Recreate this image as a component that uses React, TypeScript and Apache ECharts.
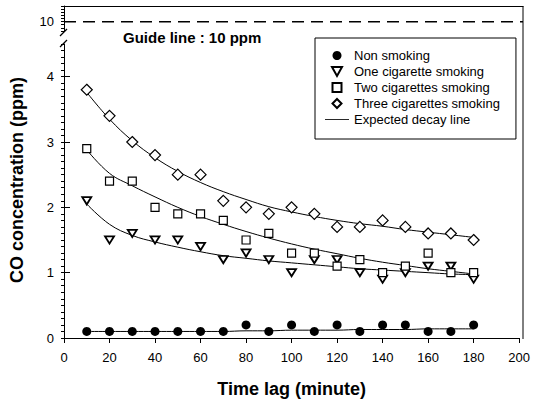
import React, { useEffect, useRef } from 'react';
import * as echarts from 'echarts';

const TIMES = [10, 20, 30, 40, 50, 60, 70, 80, 90, 100, 110, 120, 130, 140, 150, 160, 170, 180];

const NON_SMOKING = [0.1, 0.1, 0.1, 0.1, 0.1, 0.1, 0.1, 0.2, 0.1, 0.2, 0.1, 0.2, 0.1, 0.2, 0.2, 0.1, 0.1, 0.2];
const ONE_CIG = [2.1, 1.5, 1.6, 1.5, 1.5, 1.4, 1.2, 1.3, 1.2, 1.0, 1.2, 1.2, 1.0, 0.9, 1.0, 1.1, 1.1, 0.9];
const TWO_CIG = [2.9, 2.4, 2.4, 2.0, 1.9, 1.9, 1.8, 1.5, 1.6, 1.3, 1.3, 1.1, 1.2, 1.0, 1.1, 1.3, 1.0, 1.0];
const THREE_CIG = [3.8, 3.4, 3.0, 2.8, 2.5, 2.5, 2.1, 2.0, 1.9, 2.0, 1.9, 1.7, 1.7, 1.8, 1.7, 1.6, 1.6, 1.5];

// Expected decay lines
const NON_FIT = [0.1, 0.1, 0.1, 0.1, 0.1, 0.1, 0.1, 0.11, 0.11, 0.12, 0.12, 0.12, 0.13, 0.13, 0.13, 0.14, 0.14, 0.14];
const ONE_FIT = [2.05, 1.74, 1.57, 1.47, 1.39, 1.32, 1.26, 1.22, 1.18, 1.15, 1.12, 1.09, 1.06, 1.04, 1.02, 1.0, 0.98, 0.97];
const TWO_FIT = [2.88, 2.52, 2.33, 2.16, 2.0, 1.86, 1.74, 1.63, 1.53, 1.44, 1.36, 1.29, 1.22, 1.16, 1.11, 1.06, 1.02, 0.98];
const THREE_FIT = [3.76, 3.35, 3.02, 2.76, 2.55, 2.38, 2.24, 2.12, 2.01, 1.93, 1.86, 1.8, 1.75, 1.71, 1.66, 1.62, 1.58, 1.54];

const GUIDE_X = [0, 200];
const GUIDE_LEVEL = 10;

const X_MIN = 0;
const X_MAX = 200;
const X_STEP = 20;
const LOW_TICKS = [0, 1, 2, 3, 4];
const HIGH_TICKS = [10];

const NAMES = [
  'Non smoking',
  'One cigarette smoking',
  'Two cigarettes smoking',
  'Three cigarettes smoking',
  'Expected decay line',
];

const FONT = 'Liberation Sans, Arial, Helvetica, sans-serif';

const SYM_TRI = 'path://M0,0L10,0L5,9Z';
const SYM_RECT = 'path://M0,0L10,0L10,10L0,10Z';
const SYM_DIAMOND = 'path://M5,0L10,5L5,10L0,5Z';
const SYM_LINE = 'path://M0,0L40,0L40,1.4L0,1.4Z';

const pairs = (ys: number[]) => TIMES.map((t, i) => [t, ys[i]]);

export default function App() {
  const ref = useRef<HTMLDivElement>(null);

  useEffect(() => {
    document.body.style.margin = '0';
    const chart = echarts.init(ref.current!, null, { renderer: 'svg' });

    const L = 64;
    const R = 523;
    const W = R - L;
    const UP_TOP = 6;
    const UP_H = 25;
    const LO_TOP = 44;
    const LO_H = 295;

    const fitLine = (ys: number[]) => ({
      name: 'Expected decay line',
      type: 'line',
      xAxisIndex: 1,
      yAxisIndex: 2,
      data: pairs(ys),
      smooth: 0.4,
      symbol: 'none',
      lineStyle: { color: '#000', width: 1 },
      itemStyle: { color: '#000' },
      z: 2,
    });

    const scatter = (name: string, ys: number[], symbol: string, size: number | number[], fill: string, bw: number) => ({
      name,
      type: 'scatter',
      xAxisIndex: 1,
      yAxisIndex: 2,
      data: pairs(ys),
      symbol,
      symbolSize: size,
      symbolKeepAspect: true,
      itemStyle: { color: fill, borderColor: '#000', borderWidth: bw, opacity: 1 },
      z: 5,
    });

    const option: any = {
      animation: false,
      backgroundColor: '#fff',
      textStyle: { fontFamily: FONT, color: '#000' },
      grid: [
        { left: L, width: W, top: UP_TOP, height: UP_H, containLabel: false },
        { left: L, width: W, top: LO_TOP, height: LO_H, containLabel: false },
      ],
      xAxis: [
        {
          gridIndex: 0,
          type: 'value',
          position: 'top',
          min: X_MIN,
          max: X_MAX,
          interval: X_STEP,
          axisLine: { show: true, lineStyle: { color: '#000', width: 1 } },
          axisTick: { show: false },
          axisLabel: { show: false },
          splitLine: { show: false },
        },
        {
          gridIndex: 1,
          type: 'value',
          min: X_MIN,
          max: X_MAX,
          interval: X_STEP,
          axisLine: { show: true, onZero: false, lineStyle: { color: '#000', width: 1 } },
          axisTick: { show: true, inside: false, length: 5, lineStyle: { color: '#000' } },
          axisLabel: { fontSize: 13, color: '#000', margin: 13, fontFamily: FONT },
          splitLine: { show: false },
          name: 'Time lag (minute)',
          nameLocation: 'middle',
          nameGap: 42,
          nameTextStyle: { fontSize: 18, fontWeight: 'bold', color: '#000', fontFamily: FONT },
        },
      ],
      yAxis: [
        {
          gridIndex: 0,
          type: 'value',
          min: 9.7,
          max: 10.5,
          interval: 0.1,
          axisLine: { show: true, onZero: false, lineStyle: { color: '#000', width: 1 } },
          axisTick: { show: true, length: 3, lineStyle: { color: '#000' } },
          axisLabel: {
            customValues: HIGH_TICKS,
            fontSize: 13,
            color: '#000',
            margin: 10,
            fontFamily: FONT,
            formatter: (v: number) => (HIGH_TICKS.some((t) => Math.abs(t - v) < 1e-6) ? String(Math.round(v)) : ''),
          },
          splitLine: { show: false },
        },
        {
          gridIndex: 0,
          type: 'value',
          min: 9.7,
          max: 10.5,
          axisLine: { show: false },
          axisTick: { show: true, length: 6, customValues: HIGH_TICKS, lineStyle: { color: '#000' } },
          axisLabel: { show: false },
          splitLine: { show: false },
        },
        {
          gridIndex: 1,
          type: 'value',
          min: 0,
          max: 4.5,
          interval: 0.1,
          axisLine: { show: true, onZero: false, lineStyle: { color: '#000', width: 1 } },
          axisTick: { show: true, length: 3, lineStyle: { color: '#000' } },
          axisLabel: {
            customValues: LOW_TICKS,
            fontSize: 13,
            color: '#000',
            margin: 10,
            fontFamily: FONT,
            formatter: (v: number) => (LOW_TICKS.some((t) => Math.abs(t - v) < 1e-6) ? String(Math.round(v)) : ''),
          },
          splitLine: { show: false },
        },
        {
          gridIndex: 1,
          type: 'value',
          min: 0,
          max: 4.5,
          axisLine: { show: false },
          axisTick: { show: true, length: 6, customValues: LOW_TICKS, lineStyle: { color: '#000' } },
          axisLabel: { show: false },
          splitLine: { show: false },
        },
      ],
      legend: {
        orient: 'vertical',
        left: 315,
        top: 38,
        padding: [11, 16, 13, 10],
        itemWidth: 24,
        itemHeight: 9,
        itemGap: 3,
        borderColor: '#000',
        borderWidth: 1,
        backgroundColor: '#fff',
        textStyle: { fontSize: 13, color: '#000', fontFamily: FONT },
        data: [
          { name: NAMES[0], icon: 'circle' },
          { name: NAMES[1], icon: SYM_TRI },
          { name: NAMES[2], icon: SYM_RECT },
          { name: NAMES[3], icon: SYM_DIAMOND },
          { name: NAMES[4], icon: SYM_LINE, itemStyle: { color: '#000', borderWidth: 0 } },
        ],
      },
      graphic: [
        {
          type: 'line',
          shape: { x1: R, y1: UP_TOP, x2: R, y2: LO_TOP + LO_H },
          style: { stroke: '#000', lineWidth: 1 },
          silent: true,
        },
        {
          type: 'line',
          shape: { x1: L - 4, y1: 36, x2: L + 3, y2: 29 },
          style: { stroke: '#000', lineWidth: 1.2 },
          silent: true,
        },
        {
          type: 'line',
          shape: { x1: L - 4, y1: 47, x2: L + 3, y2: 40 },
          style: { stroke: '#000', lineWidth: 1.2 },
          silent: true,
        },
        {
          type: 'text',
          x: 123,
          y: 37,
          silent: true,
          style: {
            text: 'Guide line : 10 ppm',
            fontSize: 15,
            fontWeight: 'bold',
            fontFamily: FONT,
            fill: '#000',
            textAlign: 'left',
            textVerticalAlign: 'middle',
            align: 'left',
            verticalAlign: 'middle',
          },
        },
        {
          type: 'text',
          x: 17,
          y: 180,
          rotation: Math.PI / 2,
          silent: true,
          style: {
            text: 'CO concentration (ppm)',
            fontSize: 18,
            fontWeight: 'bold',
            fontFamily: FONT,
            fill: '#000',
            textAlign: 'center',
            textVerticalAlign: 'middle',
            align: 'center',
            verticalAlign: 'middle',
          },
        },
      ],
      series: [
        {
          name: 'Guide line',
          type: 'line',
          xAxisIndex: 0,
          yAxisIndex: 0,
          data: GUIDE_X.map((x) => [x, GUIDE_LEVEL]),
          symbol: 'none',
          lineStyle: { color: '#000', width: 1.5, type: [12, 7] },
          z: 2,
        },
        fitLine(NON_FIT),
        fitLine(ONE_FIT),
        fitLine(TWO_FIT),
        fitLine(THREE_FIT),
        scatter(NAMES[0], NON_SMOKING, 'circle', 9, '#000', 0),
        scatter(NAMES[1], ONE_CIG, SYM_TRI, [9, 8], '#fff', 1.8),
        scatter(NAMES[2], TWO_CIG, SYM_RECT, 8, '#fff', 1.2),
        scatter(NAMES[3], THREE_CIG, SYM_DIAMOND, 11, '#fff', 1.2),
      ],
    };

    chart.setOption(option);
    return () => chart.dispose();
  }, []);

  return <div ref={ref} style={{ width: 533, height: 403 }} />;
}
